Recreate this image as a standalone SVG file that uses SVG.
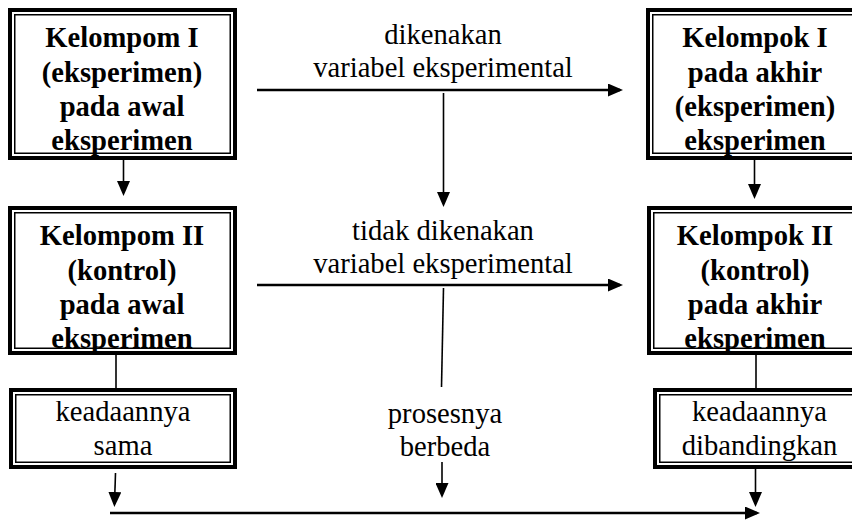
<svg xmlns="http://www.w3.org/2000/svg" width="852" height="520" viewBox="0 0 852 520">
  <style>
    .outer { fill: #fff; stroke: #000; stroke-width: 4; }
    .inner { fill: none; stroke: #000; stroke-width: 1.5; }
    .bold { font-family: "Liberation Serif", "Times New Roman", serif; font-weight: bold; font-size: 28.6px; fill: #000; text-anchor: middle; }
    .reg { font-family: "Liberation Serif", "Times New Roman", serif; font-size: 28.6px; fill: #000; text-anchor: middle; }
    .thick { stroke: #000; stroke-width: 2.6; fill: none; }
    .thin { stroke: #000; stroke-width: 1.6; fill: none; }
  </style>
  <defs>
    <marker id="head" viewBox="0 0 15 13" refX="12" refY="6.5" markerWidth="15" markerHeight="13" markerUnits="userSpaceOnUse" orient="auto">
      <path d="M0,0 L15,6.5 L0,13 z" fill="#000"/>
    </marker>
  </defs>
  <rect width="852" height="520" fill="#fff"/>

  <!-- group I, start -->
  <g id="kelompok1-awal">
    <rect class="outer" x="10" y="10" width="225" height="148"/>
    <rect class="inner" x="14.75" y="14.75" width="215.5" height="138.5"/>
    <text class="bold" x="122" y="47">Kelompom I</text>
    <text class="bold" x="122" y="81.5">(eksperimen)</text>
    <text class="bold" x="122" y="116">pada awal</text>
    <text class="bold" x="122" y="150">eksperimen</text>
  </g>

  <!-- group II, start -->
  <g id="kelompok2-awal">
    <rect class="outer" x="10" y="208" width="225" height="145"/>
    <rect class="inner" x="14.75" y="212.75" width="215.5" height="135.5"/>
    <text class="bold" x="122" y="245">Kelompom II</text>
    <text class="bold" x="122" y="279.5">(kontrol)</text>
    <text class="bold" x="122" y="314">pada awal</text>
    <text class="bold" x="122" y="348">eksperimen</text>
  </g>

  <!-- initial state -->
  <g id="keadaan-sama">
    <rect class="outer" x="11" y="390" width="224" height="77"/>
    <rect class="inner" x="15.75" y="394.75" width="214.5" height="67.5"/>
    <text class="reg" x="123" y="421">keadaannya</text>
    <text class="reg" x="123" y="455">sama</text>
  </g>

  <!-- group I, end -->
  <g id="kelompok1-akhir">
    <rect class="outer" x="648" y="10" width="220" height="148"/>
    <rect class="inner" x="652.75" y="14.75" width="210" height="138.5"/>
    <text class="bold" x="755" y="47">Kelompok I</text>
    <text class="bold" x="755" y="81.5">pada akhir</text>
    <text class="bold" x="755" y="116">(eksperimen)</text>
    <text class="bold" x="755" y="150">eksperimen</text>
  </g>

  <!-- group II, end -->
  <g id="kelompok2-akhir">
    <rect class="outer" x="649" y="208" width="220" height="145"/>
    <rect class="inner" x="653.75" y="212.75" width="210" height="135.5"/>
    <text class="bold" x="755" y="245">Kelompok II</text>
    <text class="bold" x="755" y="279.5">(kontrol)</text>
    <text class="bold" x="755" y="314">pada akhir</text>
    <text class="bold" x="755" y="348">eksperimen</text>
  </g>

  <!-- final comparison -->
  <g id="keadaan-dibandingkan">
    <rect class="outer" x="655" y="390" width="220" height="77"/>
    <rect class="inner" x="659.75" y="394.75" width="210" height="67.5"/>
    <text class="reg" x="759.5" y="421">keadaannya</text>
    <text class="reg" x="759.5" y="455">dibandingkan</text>
  </g>

  <!-- middle labels -->
  <g id="label-perlakuan">
    <text class="reg" x="443" y="44">dikenakan</text>
    <text class="reg" x="443" y="77">variabel eksperimental</text>
  </g>
  <g id="label-tanpa-perlakuan">
    <text class="reg" x="443" y="240">tidak dikenakan</text>
    <text class="reg" x="443" y="273">variabel eksperimental</text>
  </g>
  <g id="label-proses">
    <text class="reg" x="445" y="423">prosesnya</text>
    <text class="reg" x="445" y="456">berbeda</text>
  </g>

  <!-- connectors -->
  <g id="connectors">
    <line class="thin" x1="123.5" y1="160" x2="123.5" y2="193" marker-end="url(#head)"/>
    <line class="thin" x1="754.5" y1="160" x2="754.5" y2="196" marker-end="url(#head)"/>
    <line class="thick" x1="257" y1="90" x2="620" y2="90" marker-end="url(#head)"/>
    <line class="thin" x1="443.5" y1="93" x2="443.5" y2="204" marker-end="url(#head)"/>
    <line class="thick" x1="257" y1="285" x2="620" y2="285" marker-end="url(#head)"/>
    <line class="thin" x1="443.5" y1="288" x2="441.5" y2="387"/>
    <line class="thin" x1="442" y1="462" x2="442" y2="495" marker-end="url(#head)"/>
    <line class="thin" x1="116" y1="355" x2="116" y2="388"/>
    <line class="thin" x1="115.5" y1="473" x2="114.5" y2="504" marker-end="url(#head)"/>
    <line class="thin" x1="756" y1="355" x2="756" y2="388"/>
    <line class="thin" x1="755.5" y1="469" x2="755.5" y2="504" marker-end="url(#head)"/>
    <line class="thick" x1="110" y1="513" x2="757" y2="513" marker-end="url(#head)"/>
  </g>
</svg>
